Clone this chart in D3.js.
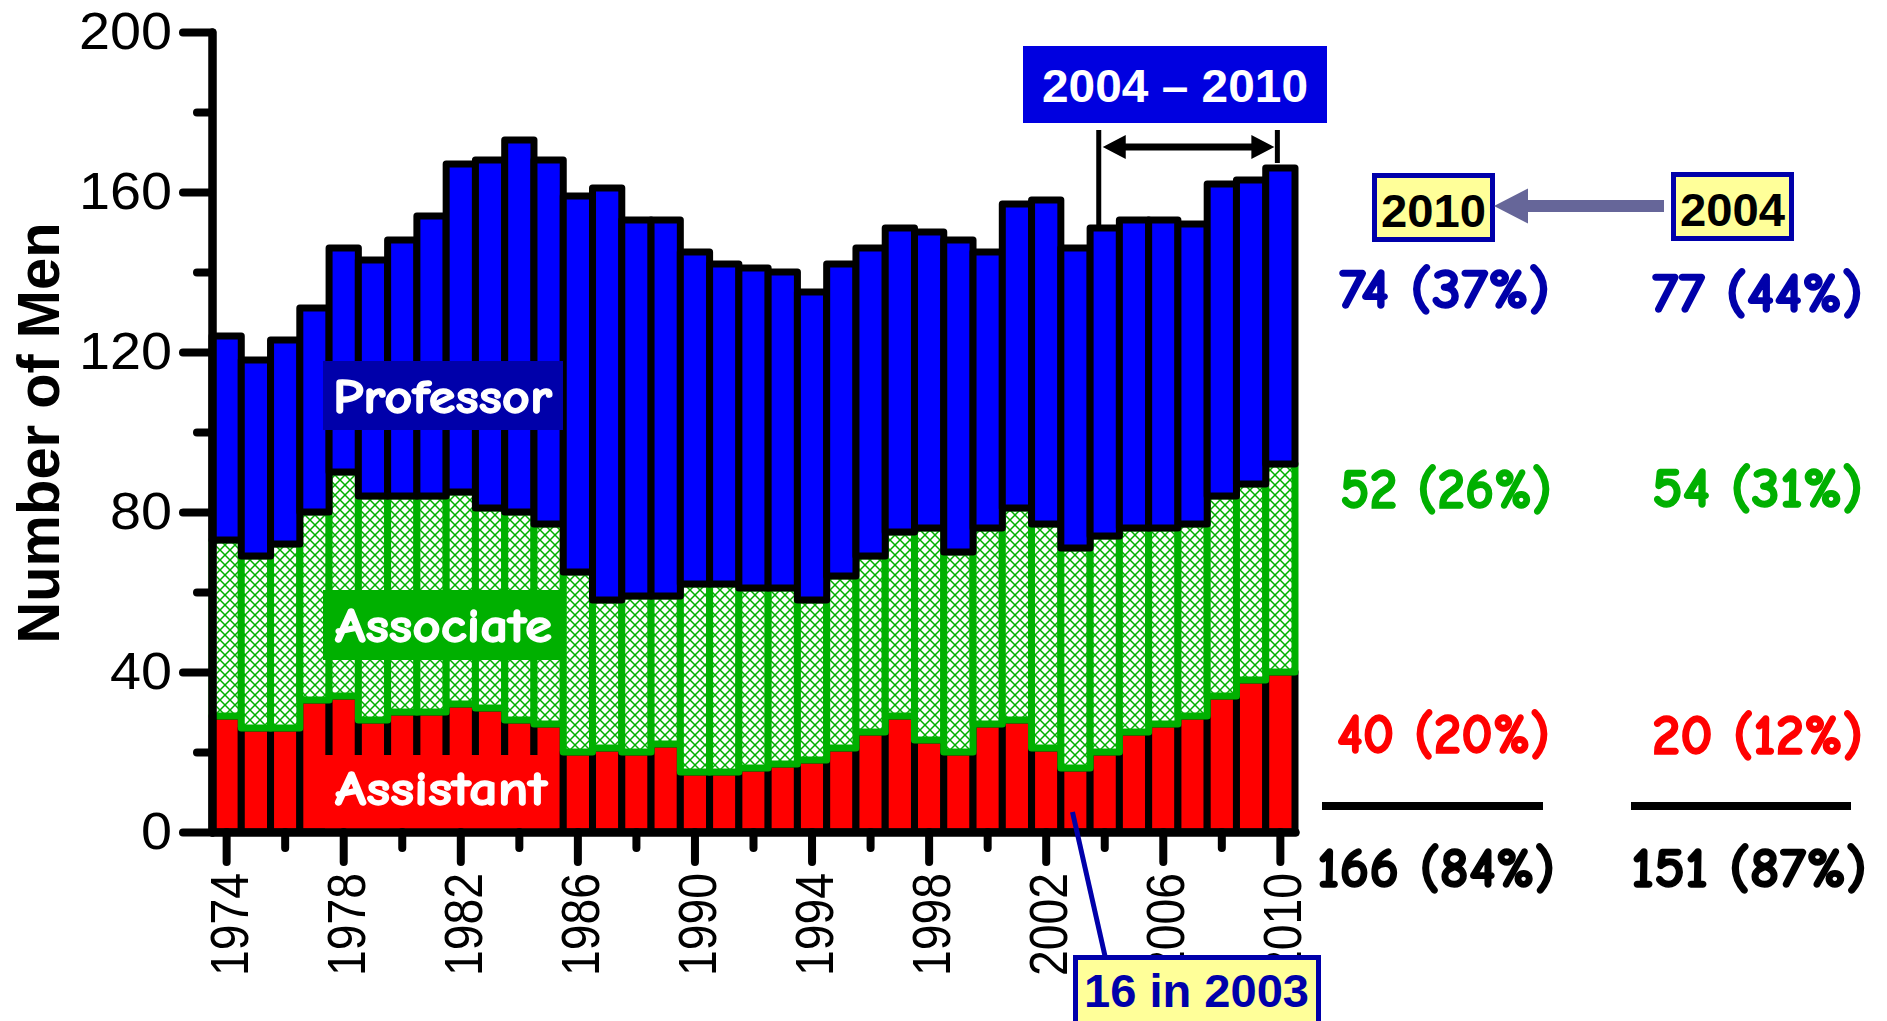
<!DOCTYPE html>
<html>
<head>
<meta charset="utf-8">
<script src="https://cdn.jsdelivr.net/npm/d3@7"></script>
<style>
  body { margin: 0; background: #fff; }
  svg { display: block; }
</style>
</head>
<body>
<div id="chart"></div>
<script>
// data: men by rank, 1974-2010
const years = [1974, 1975, 1976, 1977, 1978, 1979, 1980, 1981, 1982, 1983, 1984, 1985, 1986,
  1987, 1988, 1989, 1990, 1991, 1992, 1993, 1994, 1995, 1996, 1997, 1998, 1999, 2000,
  2001, 2002, 2003, 2004, 2005, 2006, 2007, 2008, 2009, 2010];
const assistant = [29, 26, 26, 33, 34, 28, 30, 30, 32, 31, 28, 27, 20, 21, 20, 22, 15, 15, 16,
  17, 18, 21, 25, 29, 23, 20, 27, 28, 21, 16, 20, 25, 27, 29, 34, 38, 40];
const associate = [44, 43, 46, 47, 56, 56, 54, 54, 53, 50, 52, 50, 45, 37, 39, 37, 47, 47, 45,
  44, 40, 43, 44, 46, 53, 50, 49, 53, 56, 55, 54, 51, 49, 48, 50, 49, 52];
const professor = [51, 49, 51, 51, 56, 59, 64, 70, 82, 87, 93, 91, 94, 103, 94, 94, 83, 80, 80,
  79, 77, 78, 77, 76, 74, 78, 69, 76, 81, 75, 77, 77, 77, 75, 78, 76, 74];

const yMajorTicks = [0, 40, 80, 120, 160, 200];
const yMinorTicks = [20, 60, 100, 140, 180];
const xMajorTicks = [1974, 1978, 1982, 1986, 1990, 1994, 1998, 2002, 2006, 2010];
const xMinorTicks = [1976, 1980, 1984, 1988, 1992, 1996, 2000, 2004, 2008];

// right hand summary (2010 vs 2004)
const summaryYears = ["2010", "2004"];
const summaryProf = ["74 (37%)", "77 (44%)"];
const summaryAssoc = ["52 (26%)", "54 (31%)"];
const summaryAsst = ["40 (20%)", "20 (12%)"];
const summaryTotal = ["166 (84%)", "151 (87%)"];

const W = 1887, H = 1021;
const comic = "'Comic Sans MS', 'Comic Neue', 'Noto Sans', sans-serif";
const arial = "'Liberation Sans', Arial, sans-serif";

const svg = d3.select("#chart").append("svg")
  .attr("width", W).attr("height", H);

// hatch for the associate bars
const defs = svg.append("defs");
const pat = defs.append("pattern")
  .attr("id", "hatch").attr("patternUnits", "userSpaceOnUse")
  .attr("width", 10).attr("height", 10);
pat.append("rect").attr("width", 10).attr("height", 10).attr("fill", "#fff");
pat.append("path").attr("d", "M0,0L10,10M10,0L0,10")
  .attr("stroke", "#00b000").attr("stroke-width", 1.5);

const x = d3.scaleBand().domain(years).range([212, 1295]).padding(0);
const y = d3.scaleLinear().domain([0, 200]).range([832, 32]);
const bw = x.bandwidth();

const rows = years.map((yr, i) => ({ year: yr, assistant: assistant[i], associate: associate[i], professor: professor[i] }));
const stack = d3.stack().keys(["assistant", "associate", "professor"])(rows);

const styles = {
  assistant: { fill: "#ff0000", stroke: "#000" },
  associate: { fill: "url(#hatch)", stroke: "#00b000" },
  professor: { fill: "#0000ff", stroke: "#000" }
};

stack.forEach(layer => {
  svg.append("g")
    .selectAll("rect")
    .data(layer)
    .join("rect")
    .attr("x", d => x(d.data.year))
    .attr("y", d => y(d[1]))
    .attr("width", bw)
    .attr("height", d => y(d[0]) - y(d[1]))
    .attr("fill", styles[layer.key].fill)
    .attr("stroke", styles[layer.key].stroke)
    .attr("stroke-width", 7)
    .attr("stroke-linejoin", "round");
});

// labels sitting on the bars
function tag(x0, y0, w, h, bg, label, tx, tw, ty) {
  svg.append("rect").attr("x", x0).attr("y", y0).attr("width", w).attr("height", h).attr("fill", bg);
  svg.append("text").attr("x", tx).attr("y", ty)
    .attr("font-family", comic).attr("font-weight", "bold").attr("font-size", 48)
    .attr("fill", "#fff").attr("stroke", "#fff").attr("stroke-width", 1.3)
    .attr("textLength", tw).attr("lengthAdjust", "spacingAndGlyphs")
    .text(label);
}
tag(323, 361, 240, 69, "#0000aa", "Professor", 333, 219, 413);
tag(323, 590, 240, 70, "#00b000", "Associate", 335, 217, 642);
tag(325, 755, 233, 74, "#ff0000", "Assistant", 335, 212, 805);

// axes
function styleAxis(g) {
  g.selectAll("path, line").attr("stroke", "#000").attr("stroke-width", 8).attr("stroke-linecap", "round");
  g.selectAll("text").attr("font-family", arial).attr("fill", "#000");
}

svg.append("g").attr("transform", "translate(212,0)")
  .call(d3.axisLeft(y).tickValues(yMinorTicks).tickSize(15).tickSizeOuter(0).tickFormat(""))
  .call(styleAxis);
svg.append("g").attr("transform", "translate(212,0)")
  .call(d3.axisLeft(y).tickValues(yMajorTicks).tickSize(29).tickPadding(11).tickSizeOuter(0))
  .call(styleAxis)
  .selectAll("text")
  .attr("font-size", 51)
  .attr("textLength", d => String(d).length * 31)
  .attr("lengthAdjust", "spacingAndGlyphs");

svg.append("g").attr("transform", "translate(0,832)")
  .call(d3.axisBottom(x).tickValues(xMinorTicks).tickSize(16).tickSizeOuter(0).tickFormat(""))
  .call(styleAxis);
const xg = svg.append("g").attr("transform", "translate(0,832)")
  .call(d3.axisBottom(x).tickValues(xMajorTicks).tickSize(30).tickSizeOuter(0))
  .call(styleAxis);
xg.selectAll("text")
  .attr("transform", "rotate(-90)")
  .attr("x", -41).attr("y", 2).attr("dy", "0.35em")
  .attr("text-anchor", "end")
  .attr("font-size", 54)
  .attr("textLength", 103).attr("lengthAdjust", "spacingAndGlyphs");

svg.append("text")
  .attr("transform", "translate(59,433) rotate(-90)")
  .attr("text-anchor", "middle")
  .attr("font-family", arial).attr("font-weight", "bold").attr("font-size", 60)
  .attr("textLength", 421).attr("lengthAdjust", "spacingAndGlyphs")
  .text("Number of Men");

// 2004 - 2010 bracket
const xL = x(2004) + bw / 2 - 6;
const xR = x(2010) + bw / 2 - 3;
svg.append("rect").attr("x", 1023).attr("y", 46).attr("width", 304).attr("height", 77).attr("fill", "#0000e0");
svg.append("text").attr("x", 1042).attr("y", 102)
  .attr("font-family", arial).attr("font-weight", "bold").attr("font-size", 47).attr("fill", "#fff")
  .attr("textLength", 266).attr("lengthAdjust", "spacingAndGlyphs")
  .text("2004 \u2013 2010");
svg.append("line").attr("x1", xL).attr("x2", xL).attr("y1", 130).attr("y2", y(151) - 2)
  .attr("stroke", "#000").attr("stroke-width", 5);
svg.append("line").attr("x1", xR).attr("x2", xR).attr("y1", 130).attr("y2", 163)
  .attr("stroke", "#000").attr("stroke-width", 5);
const ay = 147;
svg.append("line").attr("x1", xL + 20).attr("x2", xR - 20).attr("y1", ay).attr("y2", ay)
  .attr("stroke", "#000").attr("stroke-width", 7);
svg.append("path")
  .attr("d", `M${xL + 4},${ay}L${xL + 27},${ay - 12}L${xL + 27},${ay + 12}Z M${xR - 3},${ay}L${xR - 26},${ay - 12}L${xR - 26},${ay + 12}Z`)
  .attr("fill", "#000");

// 16 in 2003 callout
svg.append("line")
  .attr("x1", x(2003) + bw / 2 - 3).attr("y1", y(5))
  .attr("x2", 1105).attr("y2", 956)
  .attr("stroke", "#0000aa").attr("stroke-width", 5);
svg.append("rect").attr("x", 1075.5).attr("y", 957.5).attr("width", 243).attr("height", 75)
  .attr("fill", "#ffff99").attr("stroke", "#0000aa").attr("stroke-width", 5);
svg.append("text").attr("x", 1084).attr("y", 1007)
  .attr("font-family", arial).attr("font-weight", "bold").attr("font-size", 46).attr("fill", "#0000aa")
  .attr("textLength", 225).attr("lengthAdjust", "spacingAndGlyphs")
  .text("16 in 2003");

// summary columns
const boxX = [1374.5, 1673.5];
const boxY = [175.5, 174.5];
summaryYears.forEach((s, i) => {
  svg.append("rect").attr("x", boxX[i]).attr("y", boxY[i]).attr("width", 118).attr("height", 64)
    .attr("fill", "#ffff99").attr("stroke", "#0000aa").attr("stroke-width", 5);
  svg.append("text").attr("x", boxX[i] + 59).attr("y", boxY[i] + 51).attr("text-anchor", "middle")
    .attr("font-family", arial).attr("font-weight", "bold").attr("font-size", 46).attr("fill", "#000")
    .attr("textLength", 105).attr("lengthAdjust", "spacingAndGlyphs")
    .text(s);
});
svg.append("rect").attr("x", 1525).attr("y", 200).attr("width", 139).attr("height", 12).attr("fill", "#666699");
svg.append("path").attr("d", "M1494,206L1528,188.5L1528,223.5Z").attr("fill", "#666699");

function summary(list, yb, color, widths, startX) {
  list.forEach((s, i) => {
    svg.append("text").attr("x", startX[i]).attr("y", yb[i])
      .attr("font-family", comic).attr("font-weight", "bold").attr("font-size", 56)
      .attr("fill", color).attr("stroke", color).attr("stroke-width", 1.5)
      .attr("textLength", widths[i]).attr("lengthAdjust", "spacingAndGlyphs")
      .text(s);
  });
}
summary(summaryProf, [308, 312], "#0000aa", [211, 211], [1339, 1652]);
summary(summaryAssoc, [508, 507], "#00b000", [212, 211], [1340, 1652]);
summary(summaryAsst, [753, 754], "#ff0000", [213, 211], [1337, 1652]);
summary(summaryTotal, [887, 887], "#000", [238, 236], [1317, 1631]);

svg.append("line").attr("x1", 1322).attr("x2", 1543).attr("y1", 806).attr("y2", 806).attr("stroke", "#000").attr("stroke-width", 8);
svg.append("line").attr("x1", 1631).attr("x2", 1851).attr("y1", 806).attr("y2", 806).attr("stroke", "#000").attr("stroke-width", 8);
</script>
</body>
</html>
